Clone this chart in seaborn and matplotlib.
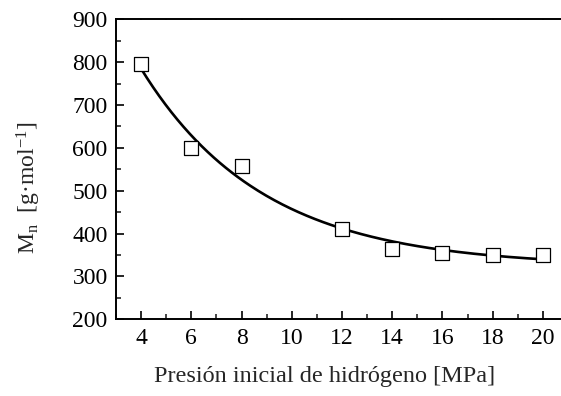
import numpy as np
import pandas as pd
import matplotlib
matplotlib.use("Agg")
import matplotlib.pyplot as plt
import seaborn as sns
from matplotlib.ticker import MultipleLocator

# Measured number-average molar mass vs. initial hydrogen pressure
pressure = [4, 6, 8, 12, 14, 16, 18, 20]
mn = [795, 599, 558, 410, 363, 355, 350, 349]

# Exponential-decay fit: Mn = y0 + A * exp(-P / t)
fit_y0 = 322.8
fit_A = 1052.0
fit_t = 4.86

sns.set_style("ticks")
plt.rcParams["font.family"] = ["Liberation Serif", "DejaVu Serif"]
plt.rcParams["mathtext.fontset"] = "custom"
plt.rcParams["mathtext.rm"] = "Liberation Serif"
plt.rcParams["mathtext.it"] = "Liberation Serif:italic"

fig = plt.figure(figsize=(5.61, 3.96), dpi=100)
ax = fig.add_axes([116 / 561, (396 - 319.3) / 396, 452 / 561, 300 / 396])

p_fit = np.linspace(min(pressure), max(pressure), 200)
fit_df = pd.DataFrame({"P": p_fit, "Mn": fit_y0 + fit_A * np.exp(-p_fit / fit_t)})
pts_df = pd.DataFrame({"P": pressure, "Mn": mn})

sns.lineplot(data=fit_df, x="P", y="Mn", ax=ax, color="black", linewidth=1.9, zorder=2)
sns.scatterplot(data=pts_df, x="P", y="Mn", ax=ax, marker="s", s=95,
                facecolor="white", edgecolor="black", linewidth=0.9, zorder=3)

ax.set_xlim(3, 21)
ax.set_ylim(200, 900)
ax.xaxis.set_major_locator(MultipleLocator(2))
ax.xaxis.set_minor_locator(MultipleLocator(1))
ax.yaxis.set_major_locator(MultipleLocator(100))
ax.yaxis.set_minor_locator(MultipleLocator(50))
ax.set_xticks([4, 6, 8, 10, 12, 14, 16, 18, 20])

for s in ax.spines.values():
    s.set_linewidth(1.4)
    s.set_color("black")
ax.spines["right"].set_visible(False)

ax.tick_params(axis="both", which="major", direction="in", length=6, width=1.2,
               labelsize=17, colors="black", pad=6)
ax.tick_params(axis="both", which="minor", direction="in", length=3.5, width=1.2)
ax.tick_params(axis="x", which="both", top=True)
# top edge carries only faint tick stubs
for t in ax.xaxis.get_ticklines(minor=False)[1::2] + ax.xaxis.get_ticklines(minor=True)[1::2]:
    t.set_markersize(0.8)
    t.set_color("#555555")

ax.set_xlabel("Presión inicial de hidrógeno [MPa]", fontsize=17.5)
ax.set_ylabel("M$_{\\mathrm{n}}$  [g·mol$^{-1}$]", fontsize=17)
ax.xaxis.set_label_coords(0.461, -0.155)
ax.yaxis.set_label_coords(-0.162, 0.44)

fig.savefig("out.png", dpi=100)
